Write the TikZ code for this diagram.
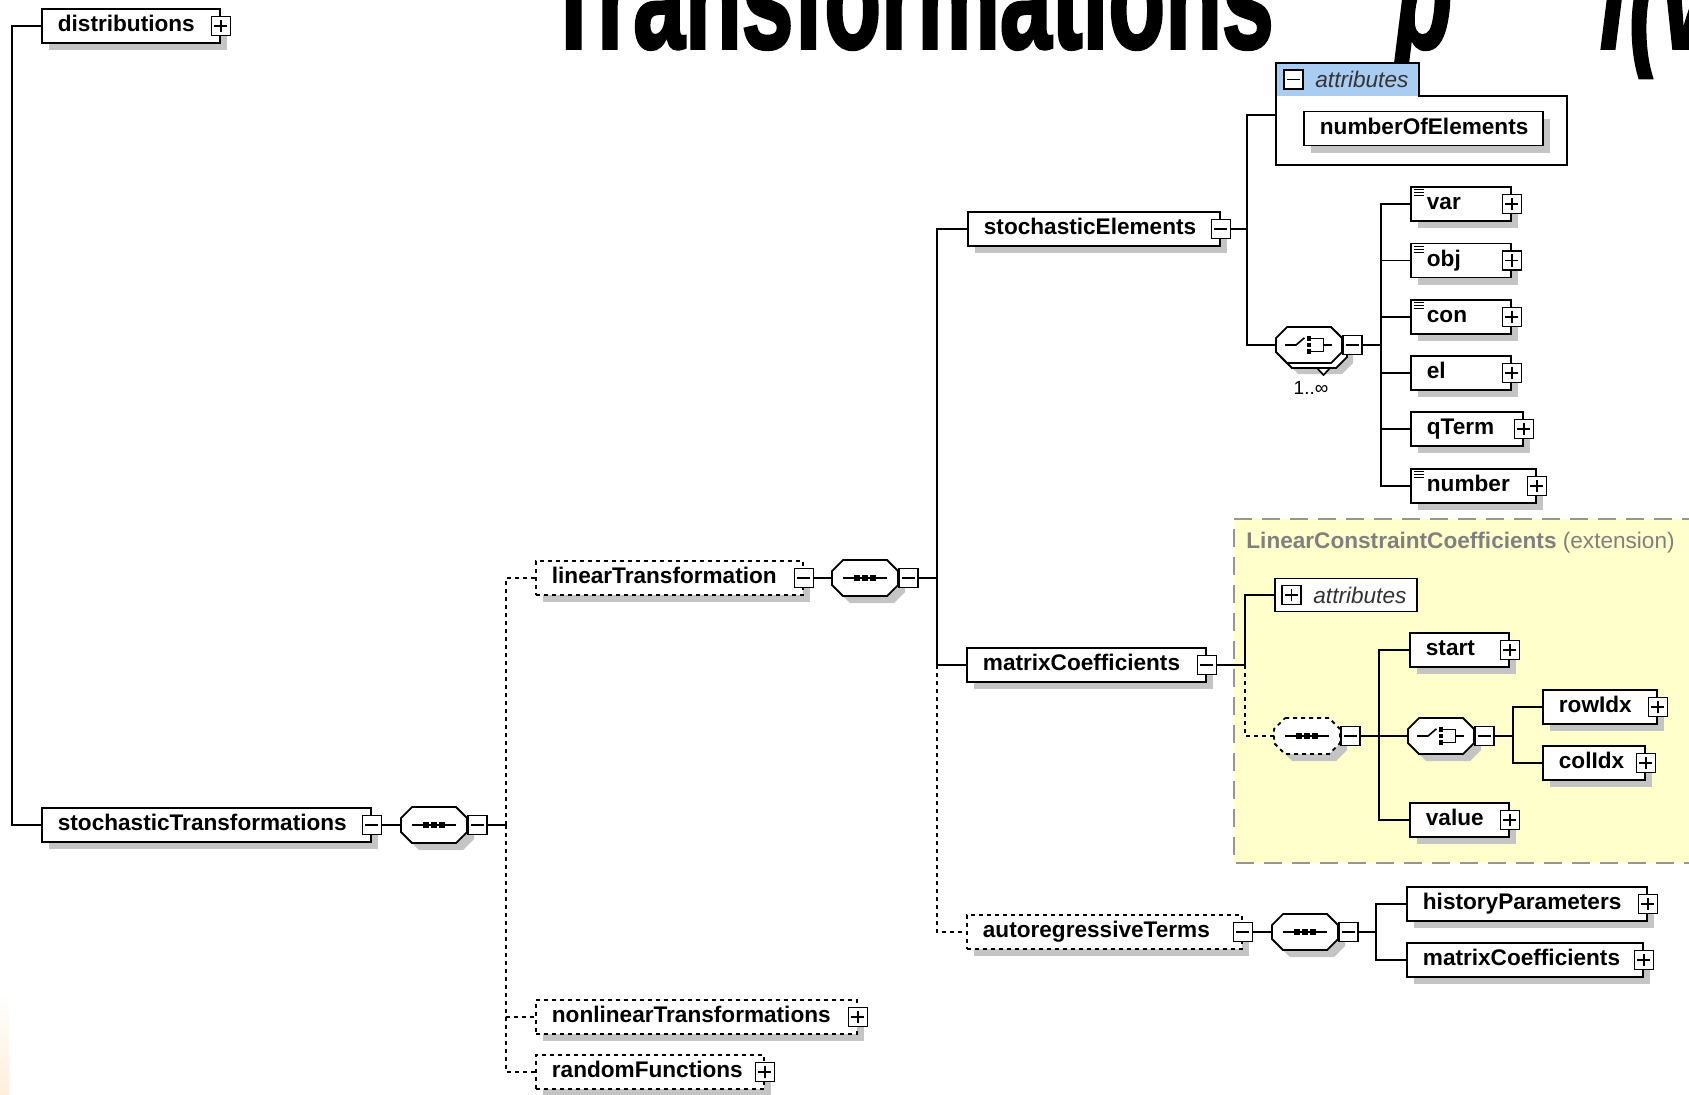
\documentclass[tikz,border=0pt]{standalone}
\usepackage{fontspec}
\usepackage{graphicx}
\setmainfont{Liberation Sans}
\newfontfamily\titlefont{Liberation Sans}[BoldFeatures={FakeBold=2.5},BoldItalicFeatures={FakeBold=2.5}]
\usetikzlibrary{calc}
\usetikzlibrary{shadows}
\definecolor{shadowgray}{RGB}{196,196,196}
\definecolor{attrblue}{RGB}{168,204,242}
\definecolor{extfill}{RGB}{255,255,204}
\definecolor{extline}{RGB}{150,150,150}
\definecolor{exttext}{RGB}{128,128,128}
\definecolor{edgeorange}{RGB}{255,238,218}
\hyphenpenalty=10000

\newcommand\octpath[1]{($(#1.north west)+(5.5pt,0)$) -- ($(#1.north east)+(-5.5pt,0)$) -- ($(#1.north east)+(0,-5.5pt)$) -- ($(#1.south east)+(0,5.5pt)$) -- ($(#1.south east)+(-5.5pt,0)$) -- ($(#1.south west)+(5.5pt,0)$) -- ($(#1.south west)+(0,5.5pt)$) -- ($(#1.north west)+(0,-5.5pt)$) -- cycle}
\newcommand\octagon[2][]{%
  \fill[shadowgray, transform canvas={shift={(3.5pt,-3.5pt)}}] \octpath{#2};
  \draw[line width=0.9pt, fill=white, #1] \octpath{#2};}
\newcommand\seqicon[1]{%
  \draw[line width=0.8pt] ([xshift=-11pt]#1.center) -- ([xshift=11pt]#1.center);
  \foreach \d in {-4pt,0pt,4pt}
    \fill ([xshift=\d]#1.center) +(-1.3pt,-1.3pt) rectangle +(1.3pt,1.3pt);}
\newcommand\choiceicon[1]{%
  \draw[line width=0.8pt] ([xshift=-12pt]#1.center) -- ([xshift=-6.5pt]#1.center) -- ([xshift=-2.3pt,yshift=3.6pt]#1.center);
  \foreach \d in {-3.3pt,0pt,3.3pt}
    \fill ([yshift=\d]#1.center) +(-1.1pt,-1.1pt) rectangle +(1.1pt,1.1pt);
  \draw[line width=0.8pt] ([xshift=1.1pt,yshift=3.3pt]#1.center) -| ([xshift=7.3pt,yshift=-3.3pt]#1.center) -- ([xshift=1.1pt,yshift=-3.3pt]#1.center);
  \draw[line width=0.8pt] ([xshift=7.3pt]#1.center) -- ([xshift=11.5pt]#1.center);}

\tikzset{
  conn/.style={line width=0.9pt},
  opt/.style={conn, dash pattern=on 2pt off 2pt},
  boxshadow/.style={general shadow={fill=shadowgray, shadow xshift=3.5pt, shadow yshift=-3.5pt}},
  elem/.style={draw, line width=0.9pt, fill=white, boxshadow, anchor=west, align=left,
    text width=#1, inner xsep=8pt, inner ysep=0pt, minimum height=17pt,
    text height=8.2pt, text depth=2.4pt, font=\bfseries\fontsize{11.3}{13}\selectfont},
  optelem/.style={elem=#1, dash pattern=on 2pt off 2pt},
  pm/.style={draw, line width=0.8pt, fill=white, minimum size=9.5pt, inner sep=0pt},
  minus/.style={pm, path picture={
    \draw[line width=0.8pt] ([xshift=-3.2pt]path picture bounding box.center) -- ([xshift=3.2pt]path picture bounding box.center);}},
  plus/.style={pm, path picture={
    \draw[line width=0.8pt] ([xshift=-3.2pt]path picture bounding box.center) -- ([xshift=3.2pt]path picture bounding box.center);
    \draw[line width=0.8pt] ([yshift=-3.2pt]path picture bounding box.center) -- ([yshift=3.2pt]path picture bounding box.center);}},
  octa/.style={rectangle, minimum width=33pt, minimum height=18pt, inner sep=0pt, outer sep=0pt, anchor=west},
  attrbox/.style={draw, line width=0.9pt, fill=white, minimum width=71pt, minimum height=16.5pt, inner sep=0pt, anchor=west},
  attrtext/.style={anchor=west, inner sep=0pt, text=black!80, font=\itshape\fontsize{11.3}{13}\selectfont}
}

\begin{document}
\begin{tikzpicture}[x=0.5pt, y=-0.5pt]
\useasboundingbox (0,0) rectangle (1689,1094);
\clip (0,0) rectangle (1689,1094);
\shade[top color=white, bottom color=edgeorange] (0,995) rectangle (9,1094);

\node[anchor=base west, inner sep=0pt] (title) at (545,48) {\scalebox{0.65}[1]{\titlefont\bfseries\fontsize{71.5}{80}\selectfont Transformations}};
\node[anchor=base west, inner sep=0pt] (title-p) at (1395,48) {\scalebox{0.65}[1]{\titlefont\bfseries\itshape\fontsize{71.5}{80}\selectfont p}};
\node[anchor=base west, inner sep=0pt] (title-f) at (1598,48) {\scalebox{0.65}[1]{\titlefont\bfseries\itshape\fontsize{71.5}{80}\selectfont f(v)}};

\fill[extfill] (1234,519) rectangle (1700,863);
\draw[extline, line width=1pt, dash pattern=on 9pt off 5pt] (1700,519) -- (1234,519) -- (1234,863) -- (1700,863);
\node[anchor=west, inner sep=0pt, text=exttext, font=\fontsize{11.3}{13}\selectfont] (ext) at (1246,543) {\textbf{LinearConstraintCoefficients} (extension)};

\node[elem=73pt] (dist) at (41,26) {distributions};
\node[plus] (dist-b) at (dist.east) {};
\node[elem=148.5pt] (st) at (41,825) {stochasticTransformations};
\node[minus] (st-b) at (st.east) {};
\node[octa] (sq0) at (401,825) {};
\octagon{sq0} \seqicon{sq0}
\node[minus, anchor=west] (sq0-b) at (sq0.east) {};
\coordinate (j0) at (506,825);

\node[optelem=117.5pt] (lt) at (535,578) {linearTransformation};
\node[minus] (lt-b) at (lt.east) {};
\node[optelem=144.5pt] (nt) at (535,1017) {nonlinearTransformations};
\node[plus] (nt-b) at (nt.east) {};
\node[optelem=98pt] (rf) at (535,1072) {randomFunctions};
\node[plus] (rf-b) at (rf.east) {};

\node[octa] (sq1) at (832,578) {};
\octagon{sq1} \seqicon{sq1}
\node[minus, anchor=west] (sq1-b) at (sq1.east) {};
\coordinate (j1) at (937,578);

\node[elem=110pt] (se) at (967,229) {stochasticElements};
\node[minus] (se-b) at (se.east) {};
\coordinate (j2) at (1247,229);

\node[minimum width=145pt, minimum height=34pt, inner sep=0pt, anchor=north west] (attrs) at (1276,96) {};
\node[fill=attrblue, minimum width=71pt, minimum height=16pt, inner sep=0pt, anchor=south west] (attr) at (attrs.north west) {};
\draw[line width=0.9pt] (attrs.south west) |- (attr.north east) |- (attrs.north east) |- (attrs.south west) -- cycle;
\node[minus] (attr-b) at ([xshift=8.75pt]attr.west) {};
\node[attrtext] (attr-t) at ([xshift=19.5pt]attr.west) {attributes};
\node[elem=103.5pt] (noe) at (1303,128.5) {numberOfElements};

\node[octa] (ch0) at (1276,345) {};
\fill[shadowgray, transform canvas={shift={(5.5pt,-5.5pt)}}] \octpath{ch0};
\draw[line width=0.9pt, fill=white, transform canvas={shift={(2.5pt,-2.5pt)}}] \octpath{ch0};
\draw[line width=0.9pt, fill=white] \octpath{ch0};
\choiceicon{ch0}
\draw[line width=0.8pt, fill=white] ($(ch0.south)+(8,5)$) -- ++(13,0) -- ++(-6.5,7) -- cycle;
\node[minus, anchor=west] (ch0-b) at (ch0.east) {};
\node[anchor=north, inner sep=0pt, font=\fontsize{9.5}{11}\selectfont] (ch0-n) at ($(ch0.south)+(2,18)$) {1..∞};
\coordinate (j3) at (1381,345);

\foreach \n/\y/\w in {var/204/34pt, obj/260.5/34pt, con/317/34pt, el/373/34pt, qTerm/429/40pt, number/486/46.5pt}{
  \node[elem=\w] (\n) at (1410,\y) {\n};
  \node[plus] (\n-b) at (\n.east) {};
  \draw[conn] (j3) |- (\n.west);
}
\foreach \n in {var,obj,con,number}
  \foreach \d in {3.5,6.5,9.5}
    \draw[line width=0.6pt] ($(\n.north west)+(4,\d)$) -- ++(10,0);

\node[elem=103.5pt] (mc) at (966,665) {matrixCoefficients};
\node[minus] (mc-b) at (mc.east) {};
\coordinate (j4) at (1245,665);

\node[attrbox] (attr2) at (1274,595) {};
\node[plus] (attr2-b) at ([xshift=8.75pt]attr2.west) {};
\node[attrtext] (attr2-t) at ([xshift=19.5pt]attr2.west) {attributes};

\node[octa] (sq2) at (1274,736) {};
\octagon[dash pattern=on 2pt off 2pt]{sq2} \seqicon{sq2}
\node[minus, anchor=west] (sq2-b) at (sq2.east) {};
\coordinate (j5) at (1379,736);
\node[elem=33.5pt] (start) at (1409,650) {start};
\node[plus] (start-b) at (start.east) {};
\node[octa] (ch1) at (1408,736) {};
\octagon{ch1} \choiceicon{ch1}
\node[minus, anchor=west] (ch1-b) at (ch1.east) {};
\coordinate (j6) at (1513,736);
\node[elem=41pt] (rowIdx) at (1542,707) {rowIdx};
\node[plus] (rowIdx-b) at (rowIdx.east) {};
\node[elem=35pt] (colIdx) at (1542,763) {colIdx};
\node[plus] (colIdx-b) at (colIdx.east) {};
\node[elem=33.5pt] (value) at (1409,820) {value};
\node[plus] (value-b) at (value.east) {};

\node[optelem=121.5pt] (ar) at (966,932) {autoregressiveTerms};
\node[minus] (ar-b) at (ar.east) {};
\node[octa] (sq3) at (1272,932) {};
\octagon{sq3} \seqicon{sq3}
\node[minus, anchor=west] (sq3-b) at (sq3.east) {};
\coordinate (j7) at (1376,932);
\node[elem=104pt] (hp) at (1406,904) {historyParameters};
\node[plus] (hp-b) at (hp.east) {};
\node[elem=102pt] (mc2) at (1406,960) {matrixCoefficients};
\node[plus] (mc2-b) at (mc2.east) {};

\draw[conn] (dist.west) -- ++(-29,0) |- (st.west);
\draw[conn] (st-b.east) -- (sq0.west);
\draw[conn] (sq0-b.east) -- (j0);
\draw[opt] (j0) |- (lt.west);
\draw[opt] (j0) |- (nt.west);
\draw[opt] (j0) |- (rf.west);
\draw[conn] (lt-b.east) -- (sq1.west);
\draw[conn] (sq1-b.east) -- (j1);
\draw[conn] (j1) |- (se.west);
\draw[conn] (j1) |- (mc.west);
\draw[opt] (mc.west -| j1) |- (ar.west);
\draw[conn] (se-b.east) -- (j2);
\draw[conn] (j2) |- ([yshift=-9.5pt]attrs.north west);
\draw[conn] (j2) |- (ch0.west);
\draw[conn] (ch0-b.east) -- (j3);
\draw[conn] (mc-b.east) -- (j4);
\draw[conn] (j4) |- (attr2.west);
\draw[opt] (j4) |- (sq2.west);
\draw[conn] (sq2-b.east) -- (j5);
\draw[conn] (j5) |- (start.west);
\draw[conn] (j5) -- (ch1.west);
\draw[conn] (j5) |- (value.west);
\draw[conn] (ch1-b.east) -- (j6);
\draw[conn] (j6) |- (rowIdx.west);
\draw[conn] (j6) |- (colIdx.west);
\draw[conn] (ar-b.east) -- (sq3.west);
\draw[conn] (sq3-b.east) -- (j7);
\draw[conn] (j7) |- (hp.west);
\draw[conn] (j7) |- (mc2.west);
\end{tikzpicture}
\end{document}
